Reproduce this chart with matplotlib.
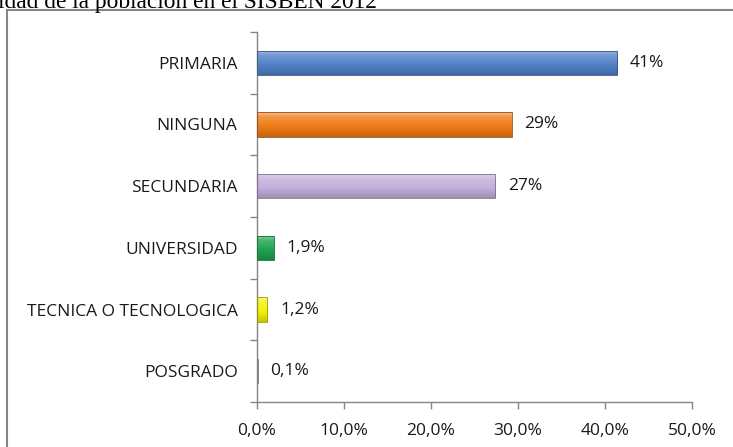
import matplotlib
matplotlib.use("Agg")
import matplotlib.pyplot as plt
import matplotlib.colors as mcolors
from matplotlib.patches import Rectangle
import numpy as np

# data
categorias = ["PRIMARIA", "NINGUNA", "SECUNDARIA", "UNIVERSIDAD",
              "TECNICA O TECNOLOGICA", "POSGRADO"]
porcentajes = [41.4, 29.3, 27.4, 1.9, 1.2, 0.1]
etiquetas = ["41%", "29%", "27%", "1,9%", "1,2%", "0,1%"]
colores = ["#4f81c7", "#f07a14", "#c4aedb", "#1da34d", "#f2f200", "#b8bfcc"]
xticks = [0, 10, 20, 30, 40, 50]
xtick_labels = ["0,0%", "10,0%", "20,0%", "30,0%", "40,0%", "50,0%"]
titulo = "idad de la población en el SISBEN 2012"

W, H = 733, 447
fig = plt.figure(figsize=(W / 100, H / 100), dpi=100)
plt.rcParams['font.family'] = ['Open Sans', 'DejaVu Sans']

# border of the chart area (cut on the right and bottom)
fig.patches.append(Rectangle((7 / W, -0.05), 1.0, 1 - 10 / H + 0.05,
                             transform=fig.transFigure, fill=False,
                             edgecolor="#868686", linewidth=1.5))

# title text cut at the top of the picture
fig.text(-2 / W, 1 - 8 / H, titulo, ha="left", va="baseline",
         fontsize=16.8, family="Liberation Serif", color="black")

ax = fig.add_axes([257 / W, 1 - 402 / H, (692 - 257) / W, (402 - 32) / H])

h = 0.39
for i, (v, c) in enumerate(zip(porcentajes, colores)):
    bar = ax.barh(i, v, height=h, color=c, linewidth=0)[0]
    base = np.array(mcolors.to_rgb(c))
    light = base + (1 - base) * 0.5
    mid_light = base + (1 - base) * 0.2
    dark = base * 0.82
    t = np.linspace(0, 1, 40)
    stops = [0.0, 0.2, 0.6, 1.0]
    grad = np.zeros((len(t), 1, 3))
    for ch in range(3):
        grad[:, 0, ch] = np.interp(t, stops, [light[ch], mid_light[ch], base[ch], dark[ch]])
    im = ax.imshow(grad, extent=[0, v, i + h / 2, i - h / 2], aspect="auto",
                   origin="upper", zorder=2, interpolation="bilinear")
    im.set_clip_path(bar)
    ax.add_patch(Rectangle((0, i - h / 2), v, h, fill=False,
                           edgecolor=tuple(base * 0.65), linewidth=0.6, zorder=3))
    ax.annotate(etiquetas[i], (v, i), xytext=(9, 0), textcoords="offset points",
                va="center", ha="left", fontsize=12.5, color="#1a1a1a")

ax.set_xlim(0, 50)
ax.set_ylim(len(categorias) - 0.5, -0.5)
ax.set_xticks(xticks)
ax.set_xticklabels(xtick_labels, fontsize=12.5, color="#1a1a1a")
ax.set_yticks(range(len(categorias)))
ax.set_yticklabels(categorias, fontsize=12.5, color="#1a1a1a")
ax.set_yticks(np.arange(-0.5, len(categorias)), minor=True)
ax.tick_params(axis="y", which="major", length=0, pad=14)
ax.tick_params(axis="y", which="minor", length=5, color="#868686", width=1)
ax.tick_params(axis="x", which="major", length=5, color="#868686", width=1, pad=10)

for s in ["top", "right"]:
    ax.spines[s].set_visible(False)
for s in ["left", "bottom"]:
    ax.spines[s].set_color("#868686")
    ax.spines[s].set_linewidth(1)

fig.savefig("out.png", dpi=100)
